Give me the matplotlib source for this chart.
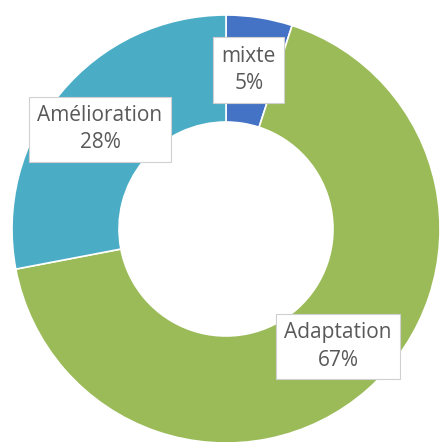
import matplotlib
matplotlib.use("Agg")
import matplotlib.pyplot as plt

categories = ["mixte", "Adaptation", "Amélioration"]
values = [5, 67, 28]
colors = ["#4472C4", "#9BBB59", "#4BACC6"]
label_pos = [(0.107, 0.743), (0.523, -0.549), (-0.589, 0.467)]

W, H = 441, 442
fig = plt.figure(figsize=(W / 100, H / 100), dpi=100)
cx, cy, r = 226, 229, 214
ax = fig.add_axes([(cx - r) / W, 1 - (cy + r) / H, 2 * r / W, 2 * r / H])

ax.pie(values, colors=colors, startangle=90, counterclock=False, radius=1,
       wedgeprops=dict(width=0.5, edgecolor="white", linewidth=1.2))
ax.set_xlim(-1, 1)
ax.set_ylim(-1, 1)
ax.set_aspect("equal")
ax.axis("off")

total = sum(values)
for name, v, (x, y) in zip(categories, values, label_pos):
    ax.text(x, y, f"{name}\n{round(100 * v / total)}%", ha="center", va="center",
            fontsize=15, color="#595959", family="Open Sans", linespacing=1.4,
            bbox=dict(boxstyle="square,pad=0.4", facecolor="white",
                      edgecolor="#D0D0D0", linewidth=0.8))

fig.savefig("out.png", dpi=100)
